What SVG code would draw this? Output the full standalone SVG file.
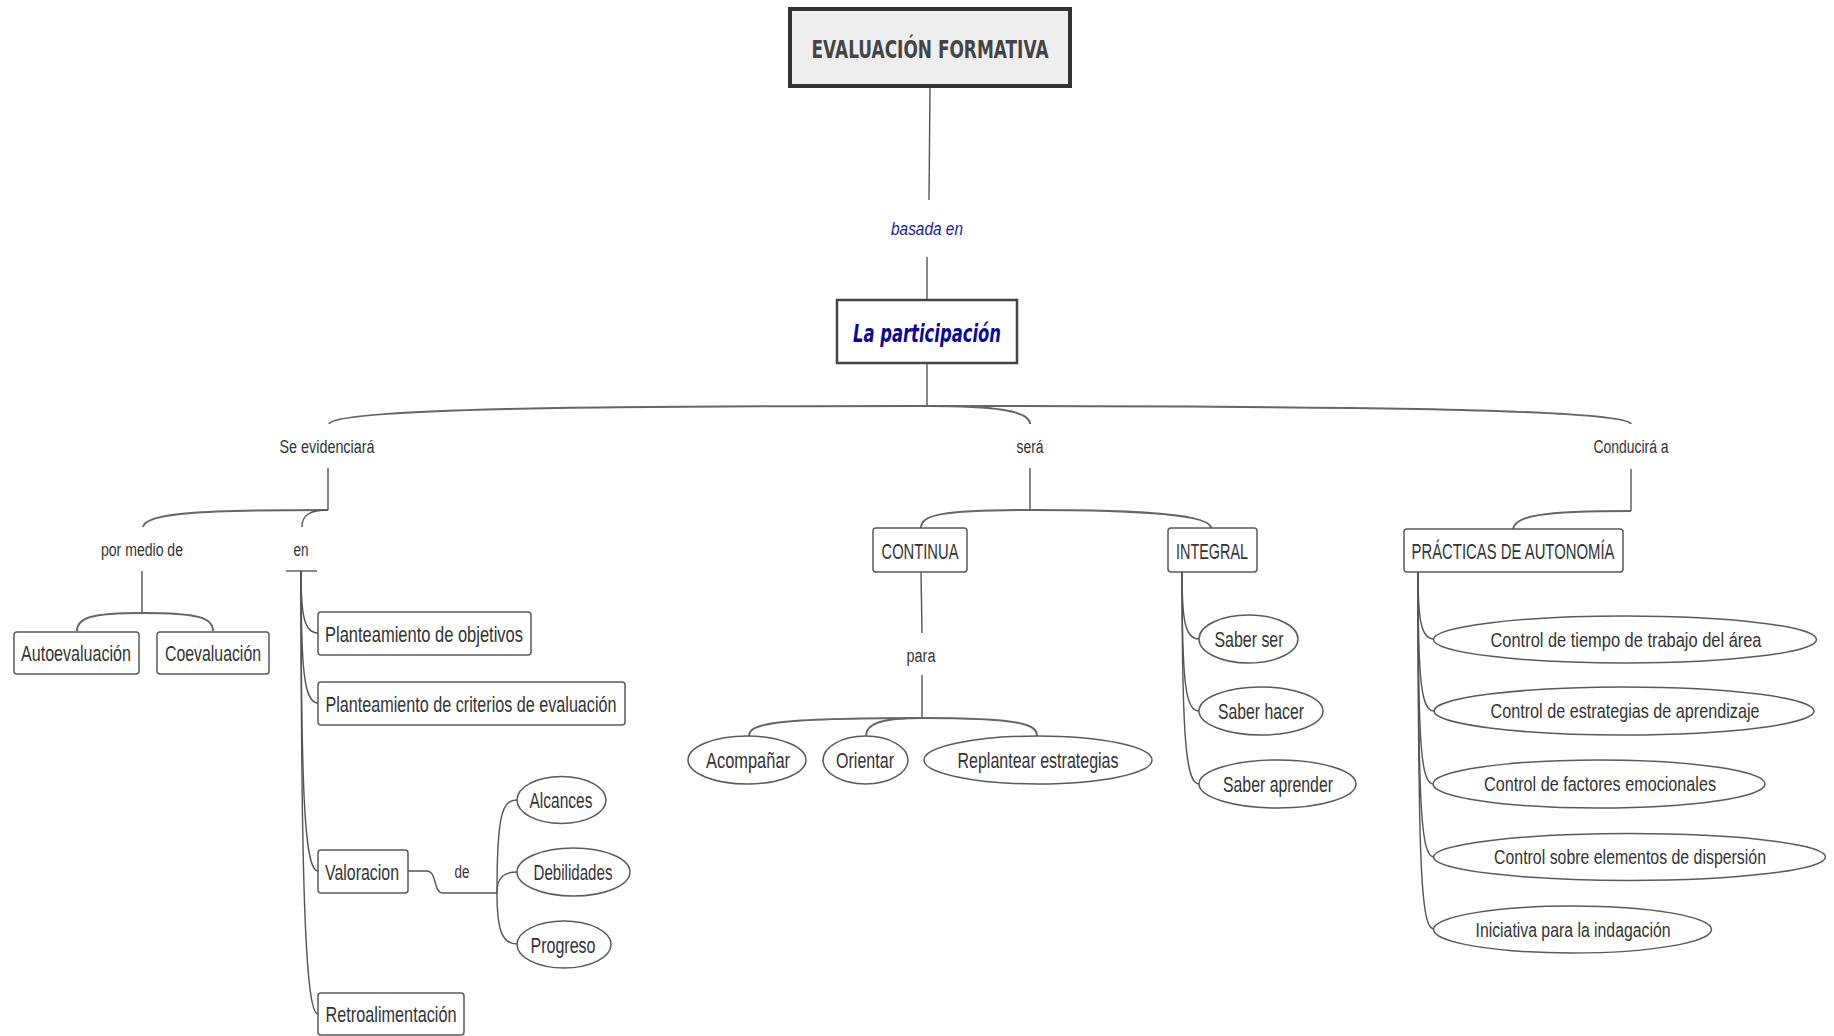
<svg xmlns="http://www.w3.org/2000/svg" width="1834" height="1036" viewBox="0 0 1834 1036">
<style>
.box{fill:#fff;stroke:#5a5a5a;stroke-width:1.5}
.ell{fill:#fff;stroke:#5a5a5a;stroke-width:1.5}
.t{font-family:"Liberation Sans","DejaVu Sans",sans-serif;font-size:22px;fill:#333;text-anchor:middle}
.ts{font-size:20.5px}
.lk{font-family:"Liberation Sans","DejaVu Sans",sans-serif;font-size:18px;fill:#333;text-anchor:middle}
.c path{fill:none;stroke:#555;stroke-width:1.4}
.c .main{stroke-width:2;stroke:#666}
</style>
<rect width="1834" height="1036" fill="#fff"/>
<g id="connectors" class="c">
<path d="M930,88 L929,200"/>
<path d="M927,257 L927,300"/>
<path d="M927,363 L927,406"/>
<path class="main" d="M927,406 C600,406 335,408 329,424"/>
<path class="main" d="M927,406 C990,406 1030,410 1030,424"/>
<path class="main" d="M927,406 C1300,406 1625,408 1631,424"/>
<path d="M328,468 L328,510"/>
<path class="main" d="M328,510 C200,510 145,513 143,527"/>
<path d="M328,510 C310,510 302,515 302,527"/>
<path d="M142,571 L142,613"/>
<path class="main" d="M142,613 C90,613 77,618 77,631"/>
<path class="main" d="M142,613 C200,613 213,618 213,631"/>
<path d="M286,571 L317,571"/>
<path d="M301,571 C301,615 304,633 318,633"/>
<path d="M301,571 C301,670 304,703 318,703"/>
<path d="M301,571 C301,800 305,871 318,871"/>
<path d="M301,571 C301,900 306,1014 318,1014"/>
<path d="M408,871 L427,871 C437,871 433,893 443,893 L497,893"/>
<path d="M497,893 C497,815 502,800 517,800"/>
<path d="M497,893 C497,878 503,872 517,872"/>
<path d="M497,893 C497,930 502,944 517,944"/>
<path d="M1030,468 L1030,510"/>
<path class="main" d="M1030,510 C940,510 921,515 921,528"/>
<path class="main" d="M1030,510 C1150,510 1211,515 1211,528"/>
<path d="M921,572 L922,633"/>
<path d="M922,675 L922,718"/>
<path class="main" d="M922,718 C770,718 749,724 749,736"/>
<path class="main" d="M922,718 C880,718 866,724 866,736"/>
<path class="main" d="M922,718 C1020,718 1037,724 1037,736"/>
<path d="M1182,572 C1182,620 1185,639 1199,639"/>
<path d="M1182,572 C1182,680 1185,711 1199,711"/>
<path d="M1182,572 C1182,740 1186,784 1199,784"/>
<path d="M1631,469 L1631,511"/>
<path class="main" d="M1631,511 C1540,511 1515,516 1513,529"/>
<path d="M1418,572 C1418,620 1421,639 1434,639"/>
<path d="M1418,572 C1418,680 1421,711 1434,711"/>
<path d="M1418,572 C1418,750 1421,784 1434,784"/>
<path d="M1418,572 C1418,810 1421,857 1434,857"/>
<path d="M1418,572 C1418,870 1421,929 1434,929"/>
</g>

<g id="root">
<rect x="790" y="9" width="280" height="77" fill="#eeeeee" stroke="#333" stroke-width="4"/>
<text x="930" y="58" style="font-family:'DejaVu Sans','Liberation Sans',sans-serif;font-size:25px;font-weight:bold;fill:#444;text-anchor:middle" textLength="237" lengthAdjust="spacingAndGlyphs">EVALUACIÓN FORMATIVA</text>
</g>
<g id="lbl-basada">
<text x="927" y="235" style="font-family:'Liberation Sans','DejaVu Sans',sans-serif;font-size:19px;font-style:italic;fill:#1a1a99;text-anchor:middle" textLength="72" lengthAdjust="spacingAndGlyphs">basada en</text>
</g>
<g id="participacion">
<rect x="837" y="300" width="180" height="63" fill="#fff" stroke="#444" stroke-width="2.5"/>
<text x="927" y="342" style="font-family:'DejaVu Sans','Liberation Sans',sans-serif;font-size:25px;font-weight:bold;font-style:italic;fill:#0a0a99;text-anchor:middle" textLength="148" lengthAdjust="spacingAndGlyphs">La participación</text>
</g>

<g id="lbl-se"><text class="lk" x="327" y="453" textLength="95" lengthAdjust="spacingAndGlyphs">Se evidenciará</text></g>
<g id="lbl-sera"><text class="lk" x="1030" y="453" textLength="27" lengthAdjust="spacingAndGlyphs">será</text></g>
<g id="lbl-conducira"><text class="lk" x="1631" y="453" textLength="75" lengthAdjust="spacingAndGlyphs">Conducirá a</text></g>
<g id="lbl-pormedio"><text class="lk" x="142" y="556" textLength="82" lengthAdjust="spacingAndGlyphs">por medio de</text></g>
<g id="lbl-en"><text class="lk" x="301" y="556" textLength="15" lengthAdjust="spacingAndGlyphs">en</text></g>
<g id="lbl-para"><text class="lk" x="921" y="662" textLength="29" lengthAdjust="spacingAndGlyphs">para</text></g>
<g id="lbl-de"><text class="lk" x="462" y="878" textLength="15" lengthAdjust="spacingAndGlyphs">de</text></g>

<g id="autoevaluacion"><rect class="box" x="14" y="632" width="125" height="42" rx="3"/><text class="t" x="76" y="661" textLength="110" lengthAdjust="spacingAndGlyphs">Autoevaluación</text></g>
<g id="coevaluacion"><rect class="box" x="157" y="632" width="112" height="42" rx="3"/><text class="t" x="213" y="661" textLength="96" lengthAdjust="spacingAndGlyphs">Coevaluación</text></g>
<g id="plant-obj"><rect class="box" x="318" y="612" width="213" height="43" rx="3"/><text class="t" x="424" y="642" textLength="198" lengthAdjust="spacingAndGlyphs">Planteamiento de objetivos</text></g>
<g id="plant-crit"><rect class="box" x="318" y="682" width="307" height="43" rx="3"/><text class="t" x="471" y="712" textLength="291" lengthAdjust="spacingAndGlyphs">Planteamiento de criterios de evaluación</text></g>
<g id="valoracion"><rect class="box" x="318" y="850" width="90" height="43" rx="3"/><text class="t" x="362" y="880" textLength="74" lengthAdjust="spacingAndGlyphs">Valoracion</text></g>
<g id="retro"><rect class="box" x="318" y="993" width="146" height="42" rx="3"/><text class="t" x="391" y="1022" textLength="131" lengthAdjust="spacingAndGlyphs">Retroalimentación</text></g>
<g id="alcances"><ellipse class="ell" cx="561.5" cy="800" rx="44.5" ry="23.5"/><text class="t" x="561" y="808" textLength="63" lengthAdjust="spacingAndGlyphs">Alcances</text></g>
<g id="debilidades"><ellipse class="ell" cx="573.5" cy="872" rx="56.5" ry="24"/><text class="t" x="573" y="880" textLength="79" lengthAdjust="spacingAndGlyphs">Debilidades</text></g>
<g id="progreso"><ellipse class="ell" cx="564" cy="944.5" rx="47" ry="23.5"/><text class="t" x="563" y="953" textLength="65" lengthAdjust="spacingAndGlyphs">Progreso</text></g>

<g id="continua"><rect class="box" x="873" y="528" width="94" height="44" rx="3"/><text class="t" x="920" y="559" textLength="77" lengthAdjust="spacingAndGlyphs">CONTINUA</text></g>
<g id="integral"><rect class="box" x="1168" y="528" width="89" height="44" rx="3"/><text class="t" x="1212" y="559" textLength="72" lengthAdjust="spacingAndGlyphs">INTEGRAL</text></g>
<g id="acompanar"><ellipse class="ell" cx="747" cy="760" rx="59" ry="24"/><text class="t" x="748" y="768" textLength="84" lengthAdjust="spacingAndGlyphs">Acompañar</text></g>
<g id="orientar"><ellipse class="ell" cx="865.5" cy="760" rx="42.5" ry="24"/><text class="t" x="865" y="768" textLength="58" lengthAdjust="spacingAndGlyphs">Orientar</text></g>
<g id="replantear"><ellipse class="ell" cx="1038" cy="760" rx="114" ry="24"/><text class="t" x="1038" y="768" textLength="161" lengthAdjust="spacingAndGlyphs">Replantear estrategias</text></g>
<g id="saber-ser"><ellipse class="ell" cx="1248.5" cy="639" rx="49.5" ry="24"/><text class="t" x="1249" y="647" textLength="69" lengthAdjust="spacingAndGlyphs">Saber ser</text></g>
<g id="saber-hacer"><ellipse class="ell" cx="1261" cy="711" rx="62" ry="24"/><text class="t" x="1261" y="719" textLength="86" lengthAdjust="spacingAndGlyphs">Saber hacer</text></g>
<g id="saber-aprender"><ellipse class="ell" cx="1277.5" cy="784" rx="78.5" ry="24"/><text class="t" x="1278" y="792" textLength="110" lengthAdjust="spacingAndGlyphs">Saber aprender</text></g>

<g id="practicas"><rect class="box" x="1404" y="529" width="219" height="43" rx="3"/><text class="t" x="1513" y="559" textLength="203" lengthAdjust="spacingAndGlyphs">PRÁCTICAS DE AUTONOMÍA</text></g>
<g id="ctrl-tiempo"><ellipse class="ell" cx="1625" cy="639.5" rx="191.5" ry="23.5"/><text class="t ts" x="1626" y="647" textLength="271" lengthAdjust="spacingAndGlyphs">Control de tiempo de trabajo del área</text></g>
<g id="ctrl-estrategias"><ellipse class="ell" cx="1624" cy="711" rx="190" ry="24"/><text class="t ts" x="1625" y="718" textLength="269" lengthAdjust="spacingAndGlyphs">Control de estrategias de aprendizaje</text></g>
<g id="ctrl-factores"><ellipse class="ell" cx="1599" cy="784" rx="166" ry="24"/><text class="t ts" x="1600" y="791" textLength="232" lengthAdjust="spacingAndGlyphs">Control de factores emocionales</text></g>
<g id="ctrl-sobre"><ellipse class="ell" cx="1629.5" cy="857" rx="196" ry="23.5"/><text class="t" style="font-size:20px" x="1630" y="864" textLength="272" lengthAdjust="spacingAndGlyphs">Control sobre elementos de dispersión</text></g>
<g id="iniciativa"><ellipse class="ell" cx="1572.5" cy="929.5" rx="139" ry="23.5"/><text class="t ts" x="1573" y="937" textLength="195" lengthAdjust="spacingAndGlyphs">Iniciativa para la indagación</text></g>
</svg>
